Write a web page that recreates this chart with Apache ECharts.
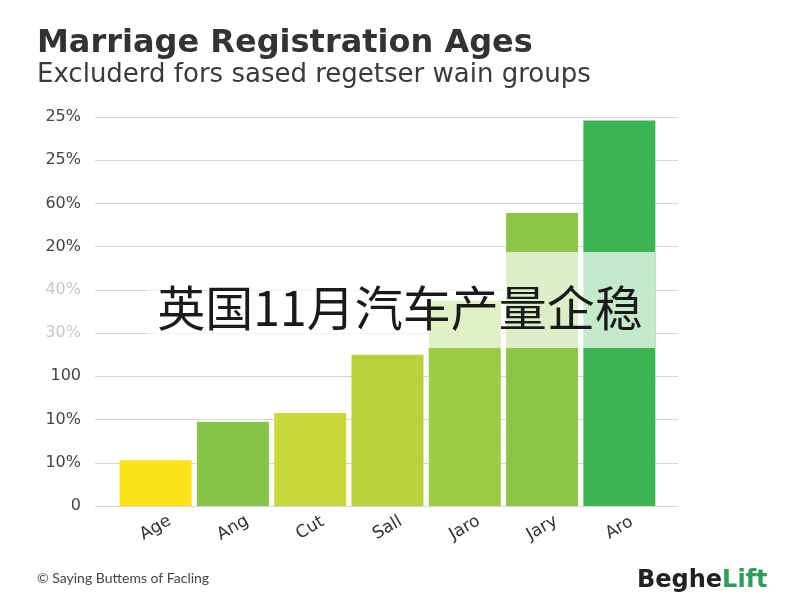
<!DOCTYPE html>
<html>
<head>
<meta charset="utf-8">
<script src="https://cdn.jsdelivr.net/npm/echarts@6/dist/echarts.min.js"></script>
<style>html,body{margin:0;padding:0;background:#fff}#c{width:800px;height:600px}</style>
</head>
<body>
<div id="c"></div>
<script>
var categories = ['Age', 'Ang', 'Cut', 'Sall', 'Jaro', 'Jary', 'Aro'];
var values = [1.06, 1.95, 2.15, 3.5, 4.75, 6.78, 8.92];
var tickLabels = ['0', '10%', '10%', '100', '30%', '40%', '20%', '60%', '25%', '25%'];
var barColors = ['#fde21b', '#88c546', '#c9d83d', '#b9d23b', '#9ccb44', '#8dc646', '#3db552'];
var fadedTicks = [4, 5];

var chart = echarts.init(document.getElementById('c'));
chart.setOption({
  animation: false,
  backgroundColor: '#ffffff',
  title: [
    { text: 'Marriage Registration Ages', left: 37, top: 28, padding: 0,
      textStyle: { fontFamily: 'DejaVu Sans', fontWeight: 'bold', fontSize: 32, color: '#333333' } },
    { text: 'Excluderd fors sased regetser wain groups', left: 37, top: 62, padding: 0,
      textStyle: { fontFamily: 'DejaVu Sans', fontWeight: 'normal', fontSize: 26, color: '#3a3a3a' } },
    { text: '© Saying Buttems of Facling', left: 37, top: 571, padding: 0,
      textStyle: { fontFamily: 'Lato', fontWeight: 'normal', fontSize: 14, color: '#444444' } },
    { text: '{a|Beghe}{b|Lift}', left: 637, top: 569, padding: 0,
      textStyle: { rich: {
        a: { fontFamily: 'DejaVu Sans', fontWeight: 'bold', fontSize: 24, color: '#222222' },
        b: { fontFamily: 'DejaVu Sans', fontWeight: 'bold', fontSize: 24, color: '#2e9d57' } } } }
  ],
  grid: [
    { left: 117, right: 142, top: 117, bottom: 94 },
    { left: 95, right: 122, top: 117, bottom: 94 }
  ],
  xAxis: [
    { type: 'category', gridIndex: 0, data: categories,
      axisLine: { show: false }, axisTick: { show: false },
      axisLabel: { rotate: 30, margin: 22, align: 'center', verticalAlign: 'middle',
        fontFamily: 'DejaVu Sans', fontSize: 17, color: '#333333' } },
    { type: 'value', gridIndex: 1, show: true, min: 0, max: 1,
      axisLine: { show: false }, axisTick: { show: false }, axisLabel: { show: false }, splitLine: { show: false } }
  ],
  yAxis: [
    { type: 'value', gridIndex: 0, min: 0, max: 9, interval: 1,
      axisLine: { show: false }, axisTick: { show: false }, axisLabel: { show: false }, splitLine: { show: false } },
    { type: 'value', gridIndex: 1, min: 0, max: 9, interval: 1,
      axisLine: { show: false }, axisTick: { show: false },
      splitLine: { show: true, lineStyle: { color: '#d6d6d6', width: 1.2 } },
      axisLabel: { margin: 14,
        formatter: function (v) {
          var i = Math.round(v);
          return fadedTicks.indexOf(i) >= 0 ? '{f|' + tickLabels[i] + '}' : '{n|' + tickLabels[i] + '}';
        },
        rich: { n: { color: '#444444', fontFamily: 'DejaVu Sans', fontSize: 16 },
                f: { color: '#c8c8c8', fontFamily: 'DejaVu Sans', fontSize: 16 } } } }
  ],
  series: [
    { type: 'bar', xAxisIndex: 0, yAxisIndex: 0, barWidth: 72, z: 3,
      data: values.map(function (v, i) { return { value: v, itemStyle: { color: barColors[i] } }; }) }
  ],
  graphic: [
    { type: 'rect', z: 100, shape: { x: 148, y: 252, width: 507, height: 96 },
      style: { fill: 'rgba(255,255,255,0.7)' } },
    { type: 'text', z: 101, x: 400, y: 308,
      style: { text: '英国11月汽车产量企稳', fontFamily: 'Noto Sans CJK SC', fontSize: 48,
        fill: '#1a1a1a', align: 'center', verticalAlign: 'middle' } }
  ]
});
</script>
</body>
</html>
